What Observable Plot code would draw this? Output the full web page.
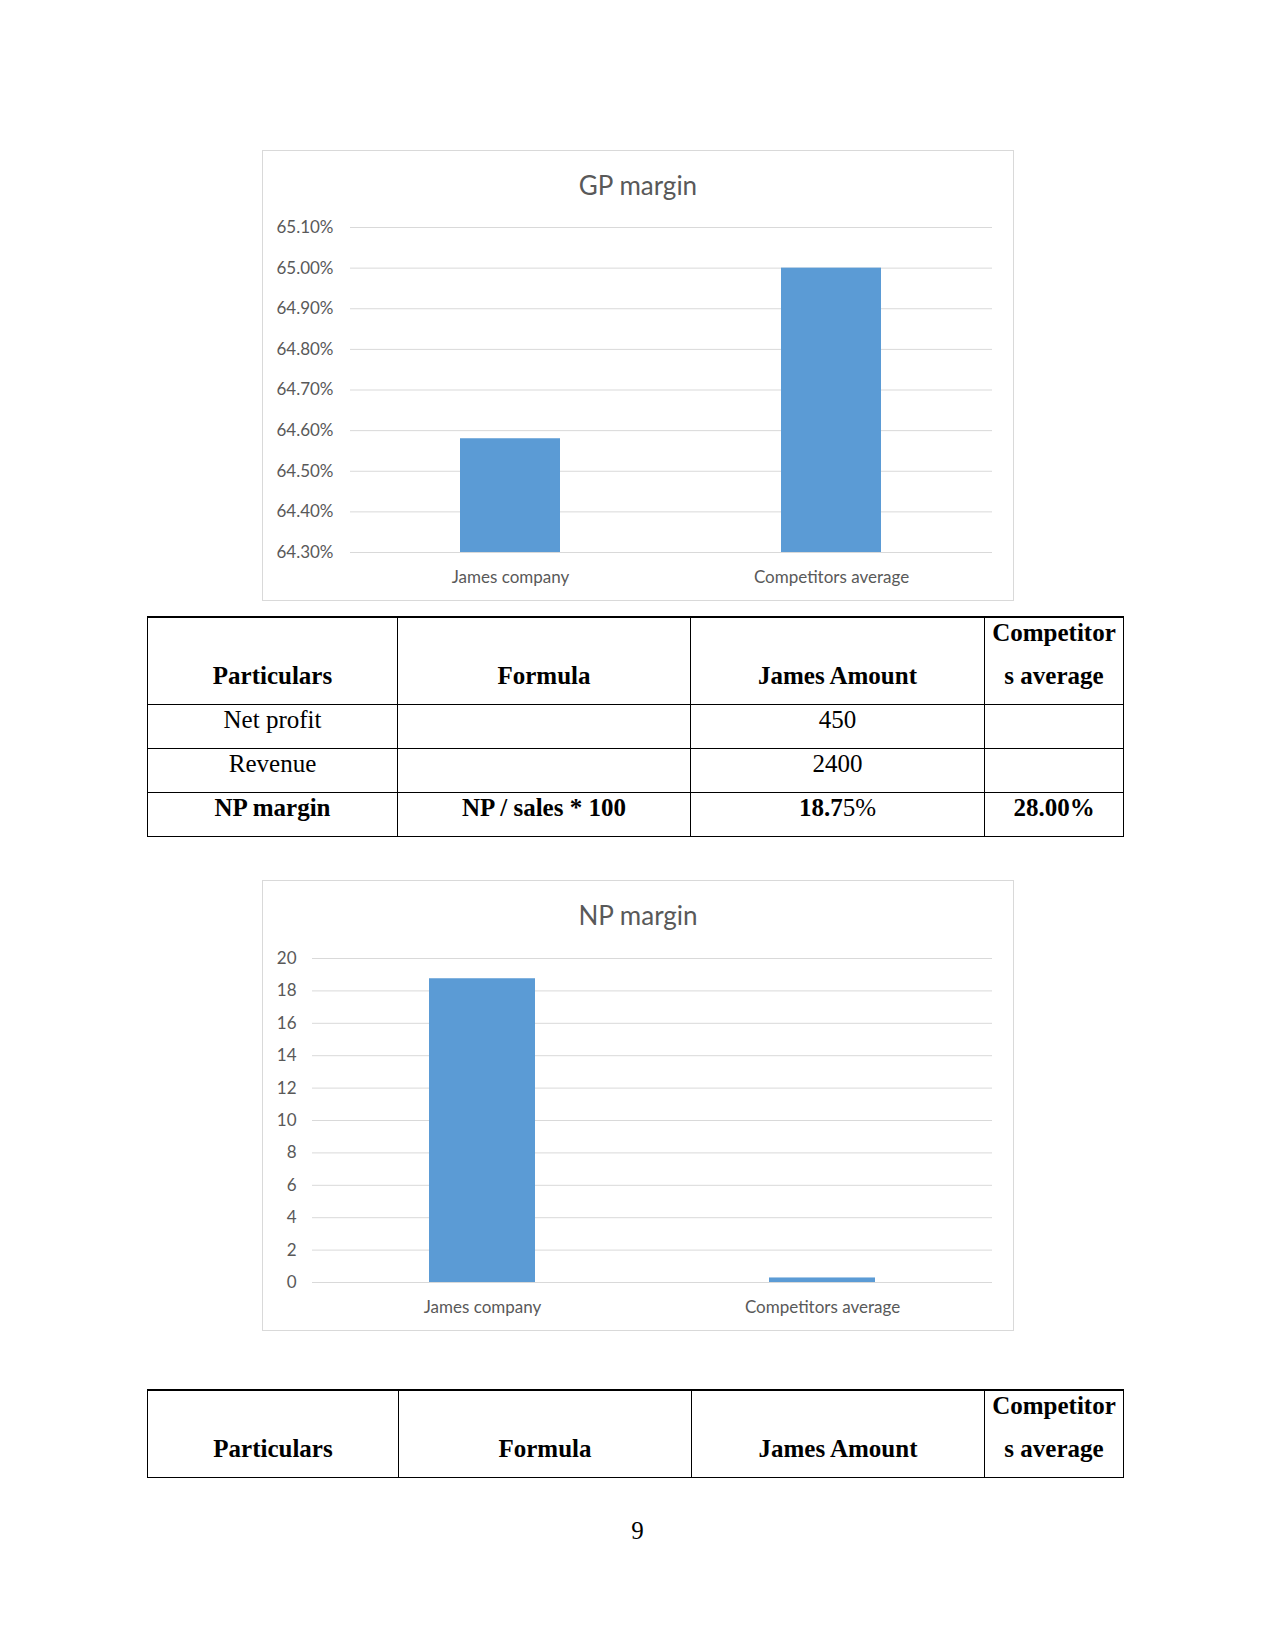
<!DOCTYPE html>
<html>
<head>
<meta charset="utf-8">
<script src="https://cdn.jsdelivr.net/npm/d3@7"></script>
<script src="https://cdn.jsdelivr.net/npm/@observablehq/plot@0.6"></script>
<style>
  html, body { margin: 0; padding: 0; background: #fff; }
  body { width: 1275px; height: 1650px; position: relative; overflow: hidden; }
  .chartbox { position: absolute; width: 752px; height: 451px; outline: 1px solid #D9D9D9; outline-offset: -1px; }
  .chartbox svg { position: absolute; left: 0; top: 0; }
  .ctitle { position: absolute; left: 0; width: 752px; text-align: center; font-family: Lato, sans-serif; font-size: 26px; line-height: 30px; color: #595959; top: 20px; }
  table.doc { position: absolute; left: 147px; border-collapse: collapse; table-layout: fixed; font-family: "Liberation Serif", "Times New Roman", serif; font-size: 25px; color: #000; }
  table.doc td { border: 1px solid #000; padding: 0; vertical-align: top; text-align: center; overflow: visible; }
  table.doc tr:first-child td { border-top-width: 2px; }
  table.doc .in { position: relative; top: -7px; line-height: 43px; white-space: nowrap; }
  table.doc .low { padding-top: 43px; }
  table.doc .b { font-weight: bold; }
  .pagenum { position: absolute; left: 0; width: 1275px; text-align: center; top: 1515px; font-family: "Liberation Serif", serif; font-size: 25px; line-height: 32px; }
</style>
</head>
<body>
<div class="chartbox" id="gp" style="left:262px; top:150px;"><div class="ctitle">GP margin</div></div>

<table class="doc" id="t1" style="top:616px; width:976px;">
  <colgroup><col style="width:250px"><col style="width:293px"><col style="width:294px"><col style="width:139px"></colgroup>
  <tr style="height:87px">
    <td><div class="in low b">Particulars</div></td>
    <td><div class="in low b">Formula</div></td>
    <td><div class="in low b">James Amount</div></td>
    <td><div class="in b">Competitor<br>s average</div></td>
  </tr>
  <tr style="height:44px">
    <td><div class="in">Net profit</div></td><td></td><td><div class="in">450</div></td><td></td>
  </tr>
  <tr style="height:44px">
    <td><div class="in">Revenue</div></td><td></td><td><div class="in">2400</div></td><td></td>
  </tr>
  <tr style="height:44px">
    <td><div class="in b">NP margin</div></td><td><div class="in b">NP / sales * 100</div></td><td><div class="in"><b>18.7</b>5%</div></td><td><div class="in b">28.00%</div></td>
  </tr>
</table>

<div class="chartbox" id="np" style="left:262px; top:880px;"><div class="ctitle">NP margin</div></div>

<table class="doc" id="t2" style="top:1389px; width:976px;">
  <colgroup><col style="width:251px"><col style="width:293px"><col style="width:293px"><col style="width:139px"></colgroup>
  <tr style="height:87px">
    <td><div class="in low b">Particulars</div></td>
    <td><div class="in low b">Formula</div></td>
    <td><div class="in low b">James Amount</div></td>
    <td><div class="in b">Competitor<br>s average</div></td>
  </tr>
</table>

<div class="pagenum">9</div>

<script>
// ---- data ----
const categories = ["James company", "Competitors average"];
const gpValues = [0.6458, 0.6500];
const gpTicks = [0.643, 0.644, 0.645, 0.646, 0.647, 0.648, 0.649, 0.650, 0.651];
const npValues = [18.75, 0.28];
const npTicks = [0, 2, 4, 6, 8, 10, 12, 14, 16, 18, 20];

const gpData = categories.map((c, i) => ({cat: c, value: gpValues[i]}));
const npData = categories.map((c, i) => ({cat: c, value: npValues[i]}));

const barColor = "#5B9BD5";
const gridColor = "#D9D9D9";
const textColor = "#595959";

function makeChart(data, ticks, fmt, m, padY, padX) {
  return Plot.plot({
    width: 752,
    height: 451,
    marginLeft: m.left,
    marginRight: m.right,
    marginTop: m.top,
    marginBottom: m.bottom,
    style: {fontFamily: "Lato, sans-serif", fontSize: "17px", color: textColor, background: "transparent", overflow: "visible"},
    x: {domain: categories, paddingInner: 0.688, paddingOuter: 0.344, label: null},
    y: {domain: [ticks[0], ticks[ticks.length - 1]], label: null},
    marks: [
      Plot.ruleY(ticks, {stroke: gridColor, strokeWidth: 1}),
      Plot.barY(data, {x: "cat", y1: ticks[0], y2: "value", fill: barColor}),
      Plot.axisY({ticks: ticks, tickSize: 0, tickPadding: padY, tickFormat: fmt, fill: textColor, fontSize: 17, label: null}),
      Plot.axisX({tickSize: 0, tickPadding: padX, fill: textColor, fontSize: 17, label: null})
    ]
  });
}

document.getElementById("gp").appendChild(
  makeChart(gpData, gpTicks, d3.format(".2%"), {left: 88, right: 22, top: 77, bottom: 49}, 17, 18)
);
document.getElementById("np").appendChild(
  makeChart(npData, npTicks, d3.format("d"), {left: 50, right: 22, top: 78, bottom: 49}, 16, 18)
);
</script>
</body>
</html>
